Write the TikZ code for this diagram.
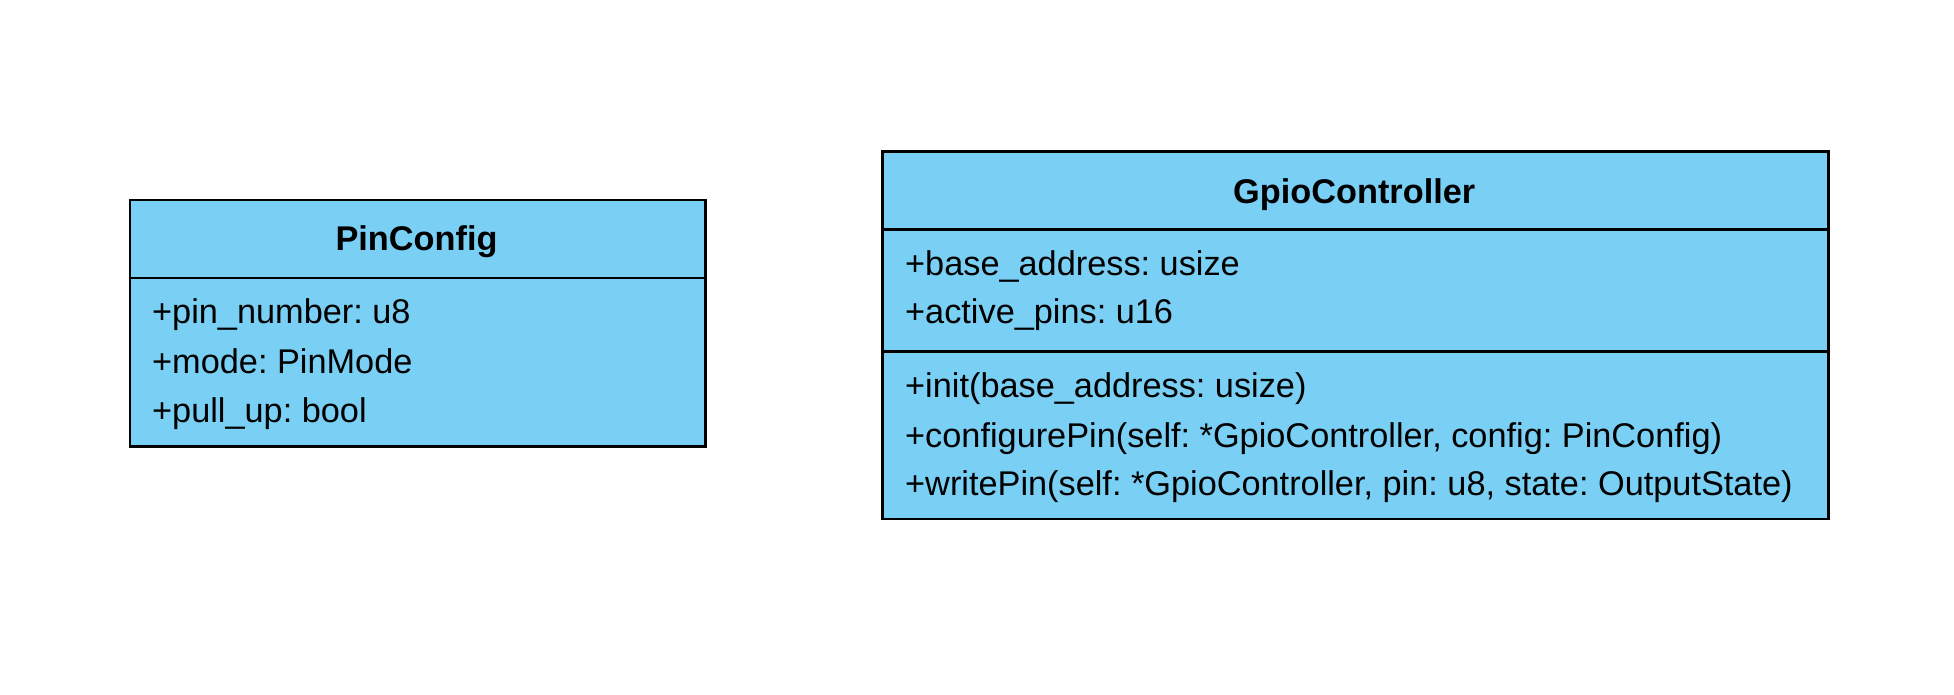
\documentclass[tikz,border=0pt]{standalone}
\usepackage{fontspec}
\setmainfont{Liberation Sans}
\frenchspacing
\definecolor{umlblue}{HTML}{79CFF4}
\tikzset{
 cls/.style={draw=black, line width=2.5pt, fill=umlblue, inner sep=0pt, anchor=north west},
 sep/.style={draw=black, line width=2.5pt},
 attr/.style={anchor=base west, inner sep=0pt, font=\fontsize{34.3}{40}\selectfont},
 ttl/.style={anchor=base, inner sep=0pt, font=\fontsize{34.3}{40}\selectfont\bfseries},
}
\begin{document}
\frenchspacing
\begin{tikzpicture}[x=1pt,y=-1pt]
\useasboundingbox[fill=white] (0,0) rectangle (1954,694);
% PinConfig
\node[cls, minimum width=575.7pt, minimum height=246.7pt] (pc) at (128.6,198.6) {};
\coordinate (pcl) at (128.6,277.9);
\coordinate (pcr) at (704.3,277.9);
\draw[sep] (pcl) -- (pcr);
\node[ttl] (pct) at (416.5,250) {PinConfig};
\node[attr] (pc1) at (152,323.5) {+pin\_number: u8};
\node[attr] (pc2) at (152,373.4) {+mode: PinMode};
\node[attr] (pc3) at (152,422) {+pull\_up: bool};
% GpioController
\node[cls, minimum width=945.9pt, minimum height=367.6pt] (gc) at (881.3,150) {};
\coordinate (gl1) at (881.3,229.3);
\coordinate (gr1) at (1827.2,229.3);
\coordinate (gl2) at (881.3,351.4);
\coordinate (gr2) at (1827.2,351.4);
\draw[sep] (gl1) -- (gr1);
\draw[sep] (gl2) -- (gr2);
\node[ttl] (gct) at (1354.2,203) {GpioController};
\node[attr] (ga1) at (905,275) {+base\_address: usize};
\node[attr] (ga2) at (905,323.5) {+active\_pins: u16};
\node[attr] (gm1) at (905,397) {+init(base\_address: usize)};
\node[attr] (gm2) at (905,447) {+configurePin(self: *GpioController, config: PinConfig)};
\node[attr] (gm3) at (905,495.5) {+writePin(self: *GpioController, pin: u8, state: OutputState)};
\end{tikzpicture}
\end{document}
